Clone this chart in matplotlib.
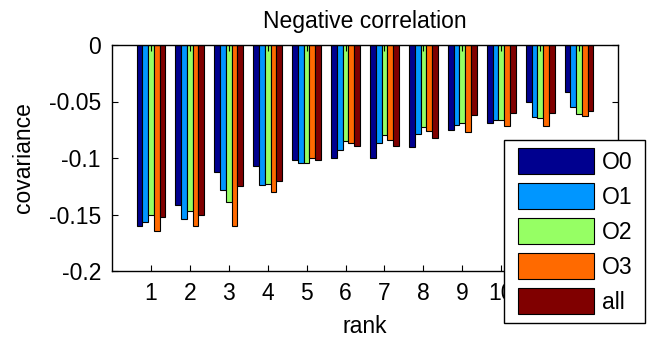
import numpy as np
import matplotlib
matplotlib.use("Agg")
import matplotlib.pyplot as plt
from matplotlib.patches import Rectangle

ranks = list(range(1, 13))
series_names = ["O0", "O1", "O2", "O3", "all"]
O0 = [-0.160, -0.142, -0.112, -0.107, -0.102, -0.100, -0.100, -0.090, -0.075, -0.069, -0.050, -0.042]
O1 = [-0.157, -0.154, -0.128, -0.124, -0.104, -0.093, -0.087, -0.079, -0.071, -0.066, -0.064, -0.055]
O2 = [-0.150, -0.147, -0.139, -0.123, -0.104, -0.085, -0.080, -0.073, -0.069, -0.066, -0.065, -0.061]
O3 = [-0.165, -0.160, -0.160, -0.130, -0.100, -0.087, -0.084, -0.076, -0.077, -0.072, -0.072, -0.063]
ALL = [-0.152, -0.150, -0.125, -0.120, -0.102, -0.089, -0.089, -0.082, -0.062, -0.060, -0.060, -0.058]
colors = ["#00008F", "#0096FF", "#96FF64", "#FF6A00", "#800000"]

plt.rcParams['font.family'] = ['Liberation Sans', 'DejaVu Sans']
FS = 16.5
W, H = 648, 338
fig = plt.figure(figsize=(W/100, H/100), dpi=100)
ax = fig.add_axes([112/W, 1-271/H, (618-112)/W, (271-45)/H])

data = [O0, O1, O2, O3, ALL]
w = 0.148
x = np.array(ranks, dtype=float)
handles = []
for i, (vals, c, name) in enumerate(zip(data, colors, series_names)):
    h = ax.bar(x + (i-2)*w, vals, width=w, color=c, edgecolor='black', linewidth=0.8, label=name)
    handles.append(h)

ax.set_xlim(0, 13)
ax.set_ylim(-0.2, 0)
ax.set_xticks(ranks)
ax.set_xticklabels([str(r) for r in ranks])
ax.set_yticks([-0.2, -0.15, -0.1, -0.05, 0])
ax.set_yticklabels(["-0.2", "-0.15", "-0.1", "-0.05", "0"])
ax.tick_params(direction='in', top=True, right=True, length=4, labelsize=FS, pad=8)
for s in ax.spines.values():
    s.set_linewidth(1.0)
ax.set_title("Negative correlation", fontsize=FS, pad=12)
ax.set_xlabel("rank", fontsize=FS, labelpad=7)
ax.set_ylabel("covariance", fontsize=FS, labelpad=10)

# legend frame
frame = Rectangle((504/W, 1-323/H), (645-504)/W, (323-140)/H, transform=fig.transFigure,
                  facecolor='white', edgecolor='black', linewidth=1.0, zorder=4)
fig.add_artist(frame)

fpx = FS*100/72
hh = (26/fpx - 0.245)/0.65
leg = fig.legend(handles=handles, labels=series_names, loc='upper left',
                 bbox_to_anchor=(518/W, 1-148/H), bbox_transform=fig.transFigure,
                 fontsize=FS, handlelength=76/fpx, handleheight=hh, labelspacing=9/fpx,
                 frameon=False, borderpad=0, handletextpad=8/fpx, borderaxespad=0)
leg.set_zorder(5)

fig.savefig("out.png", dpi=100)
